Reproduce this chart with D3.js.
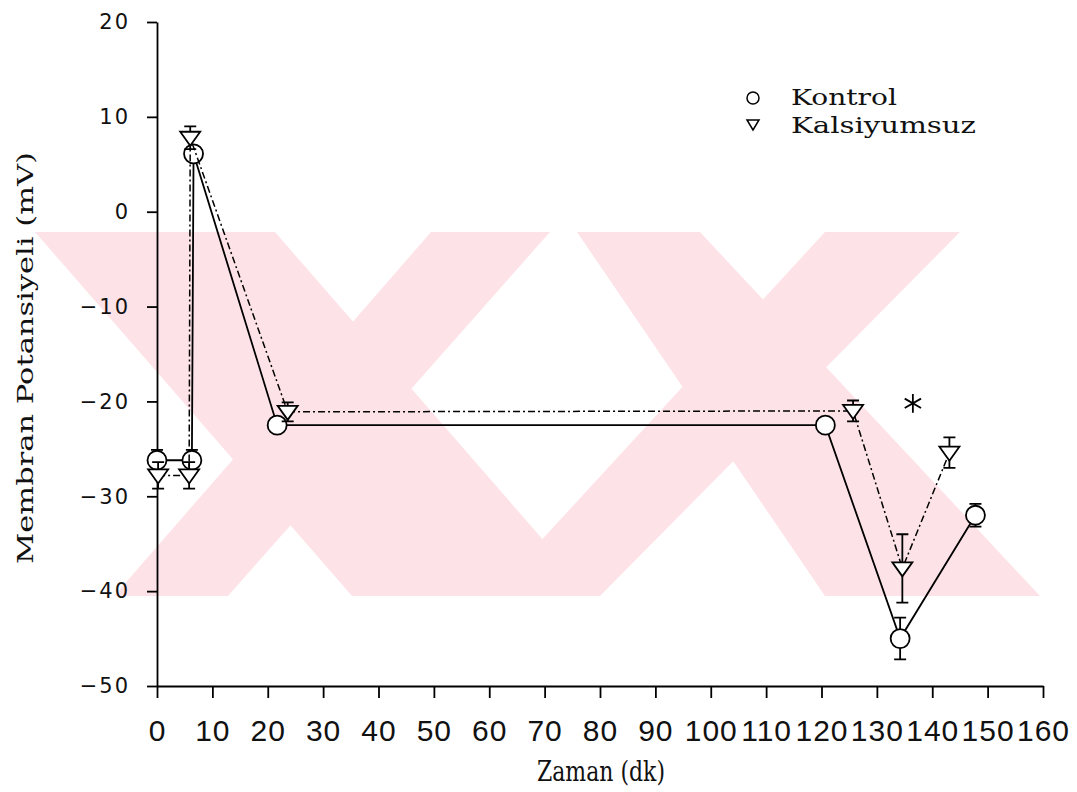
<!DOCTYPE html>
<html>
<head>
<meta charset="utf-8">
<script src="https://d3js.org/d3.v7.min.js"></script>
<style>
    body { margin: 0; background: #ffffff; }
    svg { display: block; }
    .xAxis text { font-family: "Liberation Sans Narrow", "Liberation Sans", sans-serif; font-size: 30px; letter-spacing: 1px; fill: #111; }
    .yAxis text { font-family: "DejaVu Sans", sans-serif; font-size: 21px; letter-spacing: 2px; fill: #111; }
    .axis line, .axis path { stroke: #000; stroke-width: 1.8px; }
    .label { font-family: "DejaVu Serif", serif; fill: #111; }
</style>
</head>
<body>
<div id="container"></div>
<script>

// data: time (min) vs membrane potential (mV)
var kontrolTime = [0, 6.3, 6.6, 21.7, 120.7, 134.2, 147.8];
var kontrolMean = [-26.2, -26.2, 6.1, -22.5, -22.5, -45.0, -32.0];
var kontrolErr = [1.1, 1.1, 0.3, 0.3, 0.3, 2.2, 1.2];

var kalsTime = [0.2, 5.8, 6.0, 23.6, 125.7, 134.6, 143.1];
var kalsMean = [-27.8, -27.8, 7.8, -21.1, -21.0, -37.6, -25.4];
var kalsErr = [1.4, 1.4, 1.2, 1.0, 1.1, 3.6, 1.6];

// significance mark
var starTime = [136.5];
var starValue = [-20.2];

// axis ticks and labels
var xTicks = d3.range(0, 161, 10);
var yTicks = d3.range(-50, 21, 10);
var seriesNames = ["Kontrol", "Kalsiyumsuz"];
var xTitle = "Zaman (dk)";
var yTitle = "Membran Potansiyeli (mV)";

// set variables for further use
var canvasX = 1077;
var canvasY = 792;
var plotLeft = 157;
var plotRight = 1043;
var plotTop = 22;
var plotBottom = 686;
var pink = "#fde3e8";

var svg = d3.select("#container")
            .append("svg")
            .attr("width", canvasX)
            .attr("height", canvasY);

// scales
var xScale = d3.scaleLinear().domain([0, 160]).range([plotLeft, plotRight]);
var yScale = d3.scaleLinear().domain([-50, 20]).range([plotBottom, plotTop]);

drawWatermark();
drawAxes();
drawSeries(kontrolTime, kontrolMean, kontrolErr, "circle", null);
drawSeries(kalsTime, kalsMean, kalsErr, "triangle", "7,3,2,3");
drawStar();
drawLegend();

// pale background stamp of the scanned page
function drawWatermark() {
    var y0 = 232, y1 = 596;
    // each band: top left, top right, bottom left, bottom right
    var bands = [
        [35, 275, 352, 592],
        [431, 550, 114, 228],
        [577, 700, 825, 1040],
        [825, 960, 490, 600]
    ];
    svg.append("clipPath")
       .attr("id", "wmClip")
       .append("rect")
       .attr("x", 31).attr("y", y0)
       .attr("width", 1009).attr("height", y1 - y0);

    svg.append("g")
       .attr("clip-path", "url(#wmClip)")
       .selectAll("path")
       .data(bands)
       .enter()
       .append("path")
       .attr("fill", pink)
       .attr("d", function(b) {
           return "M" + b[0] + "," + y0 + "L" + b[1] + "," + y0 +
                  "L" + b[3] + "," + y1 + "L" + b[2] + "," + y1 + "Z";
       });
}

function drawAxes() {
    var xAxis = d3.axisBottom(xScale)
                  .tickValues(xTicks)
                  .tickSize(12)
                  .tickSizeOuter(0)
                  .tickPadding(22)
                  .tickFormat(d3.format("d"));
    var yAxis = d3.axisLeft(yScale)
                  .tickValues(yTicks)
                  .tickSize(10)
                  .tickSizeOuter(0)
                  .tickPadding(17)
                  .tickFormat(d3.format("d"));

    svg.append("g")
       .attr("class", "axis xAxis")
       .attr("transform", "translate(0," + plotBottom + ")")
       .call(xAxis);

    svg.append("g")
       .attr("class", "axis yAxis")
       .attr("transform", "translate(" + plotLeft + ",0)")
       .call(yAxis);

    // x title
    svg.append("text")
       .attr("class", "label")
       .attr("x", 601)
       .attr("y", 781)
       .attr("text-anchor", "middle")
       .attr("font-family", "Liberation Serif, serif")
       .attr("font-size", 27)
       .attr("textLength", 128)
       .attr("lengthAdjust", "spacingAndGlyphs")
       .text(xTitle);

    // y title
    svg.append("text")
       .attr("class", "label")
       .attr("transform", "translate(33,358) rotate(-90)")
       .attr("text-anchor", "middle")
       .attr("font-size", 22)
       .attr("textLength", 412)
       .attr("lengthAdjust", "spacingAndGlyphs")
       .text(yTitle);
}

function drawSeries(time, mean, err, shape, dash) {
    var pts = time.map(function(t, i) {
        return {x: xScale(t), y: yScale(mean[i]), lo: yScale(mean[i] - err[i]), hi: yScale(mean[i] + err[i])};
    });

    var line = d3.line()
                 .x(function(d) { return d.x; })
                 .y(function(d) { return d.y; });

    svg.append("path")
       .datum(pts)
       .attr("d", line)
       .attr("fill", "none")
       .attr("stroke", "#000")
       .attr("stroke-width", dash ? 1.5 : 1.8)
       .attr("stroke-dasharray", dash);

    // error bars
    var bars = svg.append("g")
                  .attr("stroke", "#000")
                  .attr("stroke-width", 1.8)
                  .attr("fill", "none");
    bars.selectAll("path")
        .data(pts)
        .enter()
        .append("path")
        .attr("d", function(d) {
            return "M" + d.x + "," + d.lo + "V" + d.hi +
                   "M" + (d.x - 6) + "," + d.lo + "H" + (d.x + 6) +
                   "M" + (d.x - 6) + "," + d.hi + "H" + (d.x + 6);
        });

    // markers
    svg.append("g")
       .selectAll("path")
       .data(pts)
       .enter()
       .append("path")
       .attr("transform", function(d) { return "translate(" + d.x + "," + d.y + ")"; })
       .attr("fill", "#fff")
       .attr("stroke", "#000")
       .attr("stroke-width", 1.8)
       .attr("d", shape == "circle" ? d3.arc()({innerRadius: 0, outerRadius: 9.5, startAngle: 0, endAngle: 2 * Math.PI})
                                    : "M-10,-6L10,-6L0,8Z");
}

function drawStar() {
    svg.selectAll(".star")
       .data(starTime)
       .enter()
       .append("path")
       .attr("class", "star")
       .attr("transform", function(d, i) {
           return "translate(" + xScale(d) + "," + yScale(starValue[i]) + ")";
       })
       .attr("d", d3.symbol().type(d3.symbolAsterisk).size(250))
       .attr("stroke", "#000")
       .attr("stroke-width", 1.8);
}

function drawLegend() {
    var legend = svg.append("g").attr("transform", "translate(753,0)");

    legend.append("circle")
          .attr("cx", 0).attr("cy", 98).attr("r", 6)
          .attr("fill", "none").attr("stroke", "#000").attr("stroke-width", 1.5);
    legend.append("path")
          .attr("d", "M-6,120L6,120L0,130Z")
          .attr("fill", "none").attr("stroke", "#000").attr("stroke-width", 1.5);

    legend.selectAll("text")
          .data(seriesNames)
          .enter()
          .append("text")
          .attr("class", "label")
          .attr("x", 38)
          .attr("y", function(d, i) { return 105 + i * 28; })
          .attr("font-size", 23)
          .attr("textLength", function(d, i) { return i == 0 ? 106 : 185; })
          .attr("lengthAdjust", "spacingAndGlyphs")
          .text(function(d) { return d; });
}
</script>
</body>
</html>
